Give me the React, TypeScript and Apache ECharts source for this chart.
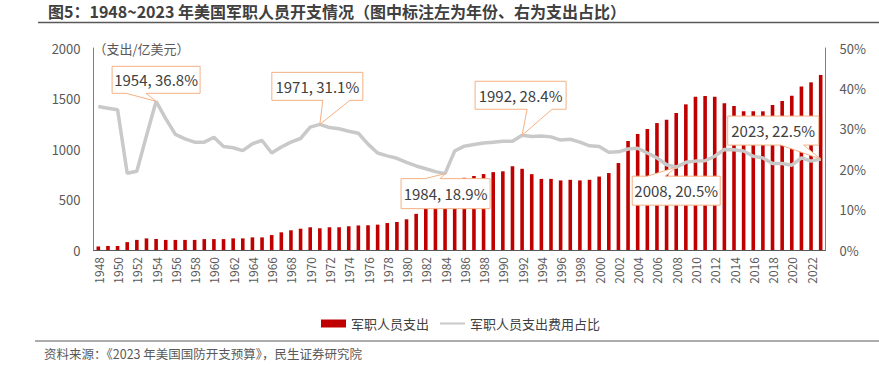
import React, { useEffect, useRef } from 'react';
import * as echarts from 'echarts';

const years = [
  '1948','1949','1950','1951','1952','1953','1954','1955','1956','1957',
  '1958','1959','1960','1961','1962','1963','1964','1965','1966','1967',
  '1968','1969','1970','1971','1972','1973','1974','1975','1976','1977',
  '1978','1979','1980','1981','1982','1983','1984','1985','1986','1987',
  '1988','1989','1990','1991','1992','1993','1994','1995','1996','1997',
  '1998','1999','2000','2001','2002','2003','2004','2005','2006','2007',
  '2008','2009','2010','2011','2012','2013','2014','2015','2016','2017',
  '2018','2019','2020','2021','2022','2023',
];

// 军职人员支出（亿美元）
const spending = [
  35, 40, 40, 78, 100, 115, 109, 100, 100, 100,
  100, 108, 108, 108, 115, 115, 125, 125, 148, 175,
  195, 211, 225, 215, 225, 225, 235, 243, 245, 251,
  267, 277, 304, 358, 429, 456, 484, 678, 715, 733,
  752, 771, 779, 828, 804, 751, 704, 704, 689, 695,
  689, 695, 727, 762, 861, 1079, 1149, 1198, 1257, 1290,
  1356, 1442, 1518, 1525, 1518, 1452, 1426, 1373, 1373, 1373,
  1436, 1475, 1528, 1620, 1660, 1733,
];

// 军职人员支出费用占比（%）
const ratio = [
  35.5, 35.1, 34.7, 19.0, 19.5, 28.3, 36.8, 32.5, 28.6, 27.5,
  26.7, 26.7, 27.9, 25.6, 25.3, 24.6, 26.3, 27.1, 24.0, 25.5,
  26.7, 27.6, 30.4, 31.1, 30.3, 30.0, 29.4, 28.9, 26.2, 24.0,
  23.3, 22.7, 21.7, 20.8, 20.1, 19.4, 18.9, 24.5, 25.7, 26.1,
  26.5, 26.7, 26.9, 26.9, 28.4, 28.1, 28.2, 28.0, 27.2, 27.4,
  26.7, 25.8, 25.6, 24.2, 24.3, 25.0, 25.2, 24.0, 22.8, 21.1,
  20.5, 21.7, 22.0, 22.1, 23.2, 24.9, 24.8, 24.5, 23.2, 22.8,
  21.4, 21.4, 21.0, 22.8, 22.0, 22.5,
];

const calloutYears = ['1954', '1971', '1984', '1992', '2008', '2023'];

const seriesNames = ['军职人员支出', '军职人员支出费用占比'];
const titleText = '图5：1948~2023 年美国军职人员开支情况（图中标注左为年份、右为支出占比）';
const sourceText = '资料来源：《2023 年美国国防开支预算》，民生证券研究院';
const unitText = '（支出/亿美元）';

// callout box layout relative to the annotated point (pixels)
const calloutLayout = [
  { dx: -44, dy: -35, w: 88, h: 27, side: 'bottom', b1: -30, b2: -10 },
  { dx: -48, dy: -52, w: 91, h: 28, side: 'bottom', b1: 3, b2: 30 },
  { dx: -44, dy: 5, w: 89, h: 30, side: 'top', b1: -20, b2: -5 },
  { dx: -47, dy: -54, w: 91, h: 28, side: 'bottom', b1: 5, b2: 30 },
  { dx: -44, dy: 9, w: 88, h: 29, side: 'top', b1: -29, b2: -11 },
  { dx: -93, dy: -43, w: 91, h: 29, side: 'bottom', b1: -40, b2: -17 },
];

const FONT = '"Noto Sans CJK SC", "Noto Sans", sans-serif';

export default function App() {
  const ref = useRef<HTMLDivElement>(null);

  useEffect(() => {
    document.body.style.margin = '0';
    const chart = echarts.init(ref.current!, null, { renderer: 'svg' });
    const option: any = {
      animation: false,
      textStyle: { fontFamily: FONT },
      grid: { left: 93.5, right: 53.5, top: 48, bottom: 115, outerBoundsMode: 'none' },
      legend: {
        left: 316,
        top: 312,
        itemGap: 10,
        textStyle: { fontSize: 13, color: '#404040', fontFamily: FONT },
        data: [
          { name: seriesNames[0], icon: 'rect', itemStyle: { color: '#C00000' } },
          { name: seriesNames[1], itemStyle: { opacity: 0 } },
        ],
        itemWidth: 25,
        itemHeight: 8,
      },
      xAxis: {
        type: 'category',
        data: years,
        axisLine: { show: true, lineStyle: { color: '#595959', width: 1 } },
        axisTick: { show: false },
        axisLabel: {
          interval: 1,
          rotate: 90,
          margin: 7,
          fontSize: 12,
          color: '#595959',
          fontFamily: FONT,
        },
        splitLine: { show: false },
      },
      yAxis: [
        {
          type: 'value',
          min: 0,
          max: 2000,
          interval: 500,
          axisLine: { show: true, lineStyle: { color: '#7F7F7F', width: 1 } },
          axisTick: { show: false },
          splitLine: { show: false },
          axisLabel: {
            fontSize: 13,
            color: '#595959',
            margin: 13,
            fontFamily: FONT,
            formatter: (v: number) => String(v),
          },
          name: unitText,
          nameLocation: 'end',
          nameGap: 0,
          nameTextStyle: {
            align: 'left',
            verticalAlign: 'middle',
            fontSize: 13,
            color: '#595959',
            fontFamily: FONT,
            padding: [0, 0, 0, 0],
          },
        },
        {
          type: 'value',
          min: 0,
          max: 50,
          interval: 10,
          position: 'right',
          axisLine: { show: true, lineStyle: { color: '#7F7F7F', width: 1 } },
          axisTick: { show: false },
          splitLine: { show: false },
          axisLabel: {
            formatter: '{value}%',
            fontSize: 13,
            color: '#595959',
            margin: 14,
            fontFamily: FONT,
          },
        },
      ],
      series: [
        {
          name: seriesNames[0],
          type: 'bar',
          data: spending,
          barWidth: 3.6,
          itemStyle: { color: '#C00000' },
          yAxisIndex: 0,
        },
        {
          name: seriesNames[1],
          type: 'line',
          data: ratio,
          yAxisIndex: 1,
          symbol: 'none',
          lineStyle: { color: '#C9C9C9', width: 3.5 },
          itemStyle: { color: '#C9C9C9' },
        },
      ],
    };
    chart.setOption(option);

    const graphics: any[] = [
      {
        type: 'text',
        x: 48,
        y: 11,
        style: {
          text: titleText,
          font: `bold 16px ${FONT}`,
          fill: '#404040',
          align: 'left',
          verticalAlign: 'middle',
        },
      },
      {
        type: 'line',
        shape: { x1: 38, y1: 22.5, x2: 879, y2: 22.5 },
        style: { stroke: '#595959', lineWidth: 1.5 },
      },
      {
        type: 'line',
        shape: { x1: 35, y1: 341, x2: 879, y2: 341 },
        style: { stroke: '#595959', lineWidth: 1 },
      },
      {
        type: 'text',
        left: 44,
        top: 347,
        style: {
          text: sourceText,
          font: `12.5px ${FONT}`,
          fill: '#595959',
        },
      },
    ];

    calloutYears.forEach((yr, i) => {
      const idx = years.indexOf(yr);
      const val = ratio[idx];
      const p = chart.convertToPixel({ seriesIndex: 1 }, [idx, val]) as number[];
      const L = calloutLayout[i];
      const ax = p[0];
      const ay = p[1];
      const left = ax + L.dx;
      const top = ay + L.dy;
      const right = left + L.w;
      const bottom = top + L.h;
      let pts: number[][];
      if (L.side === 'bottom') {
        pts = [
          [left, top], [right, top], [right, bottom],
          [ax + L.b2, bottom], [ax, ay], [ax + L.b1, bottom], [left, bottom],
        ];
      } else {
        pts = [
          [left, top], [ax + L.b1, top], [ax, ay], [ax + L.b2, top],
          [right, top], [right, bottom], [left, bottom],
        ];
      }
      graphics.push({
        type: 'polygon',
        z: 100,
        shape: { points: pts },
        style: { fill: '#FFFFFF', stroke: '#F4B183', lineWidth: 1 },
      });
      graphics.push({
        type: 'text',
        z: 101,
        x: left + L.w / 2,
        y: top + L.h / 2,
        style: {
          text: `${yr}, ${val.toFixed(1)}%`,
          font: `15px ${FONT}`,
          fill: '#404040',
          align: 'center',
          verticalAlign: 'middle',
        },
      });
    });

    chart.setOption({ graphic: graphics });

    return () => {
      chart.dispose();
    };
  }, []);

  return <div ref={ref} style={{ width: 879, height: 365 }} />;
}
